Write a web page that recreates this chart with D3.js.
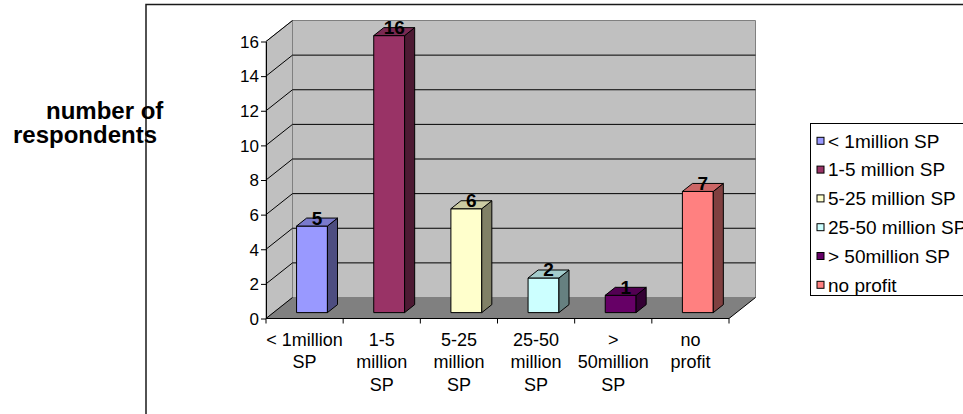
<!DOCTYPE html>
<html>
<head>
<meta charset="utf-8">
<script src="https://cdn.jsdelivr.net/npm/d3@7"></script>
<style>
  html, body { margin: 0; padding: 0; background: #fff; }
  svg { display: block; }
  text { font-family: Arial, "Liberation Sans", sans-serif; fill: #000; }
</style>
</head>
<body>
<svg id="chart" width="963" height="414"></svg>
<script>
// ---- data ----
const categories = ["< 1million SP", "1-5 million SP", "5-25 million SP", "25-50 million SP", "> 50million SP", "no profit"];
const categoryLines = [["< 1million", "SP"], ["1-5", "million", "SP"], ["5-25", "million", "SP"], ["25-50", "million", "SP"], [">", "50million", "SP"], ["no", "profit"]];
const values = [5, 16, 6, 2, 1, 7];
const colors = ["#9999FF", "#993366", "#FFFFCC", "#CCFFFF", "#660066", "#FF8080"];
const yTicks = [0, 2, 4, 6, 8, 10, 12, 14, 16];
const yTitleLines = ["number of", "respondents"];

// ---- layout ----
const svg = d3.select("#chart");
const X0 = 266, X1 = 729, Y0 = 318.5, Y16 = 41.5;
const DX = 26.5, DY = -21;           // depth of the 3D box
const F1 = 0.28, F2 = 0.66;          // bar depth position (fraction)

const x = d3.scaleBand().domain(d3.range(categories.length)).range([X0, X1]).paddingInner(0.6).paddingOuter(0.3);
const xCat = d3.scaleBand().domain(d3.range(categories.length)).range([X0, X1]);
const y = d3.scaleLinear().domain([0, 16]).range([Y0, Y16]);

const shade = (c, k) => { const r = d3.rgb(c); return d3.rgb(r.r * k, r.g * k, r.b * k).formatHex(); };
const poly = pts => "M" + pts.map(p => p.join(",")).join("L") + "Z";

// frame
svg.append("path").attr("d", "M146,414V4.5H963").attr("fill", "none").attr("stroke", "#1a1a1a").attr("stroke-width", 1.5);

// y title
svg.append("g").selectAll("text").data(yTitleLines).join("text")
  .attr("x", (d, i) => i === 0 ? 46 : 13)
  .attr("y", (d, i) => 119 + i * 24)
  .attr("font-size", 24).attr("font-weight", "bold")
  .text(d => d);

// back wall
svg.append("path").attr("d", poly([[X0 + DX, Y0 + DY], [X0 + DX, Y16 + DY], [X1 + DX, Y16 + DY], [X1 + DX, Y0 + DY]]))
  .attr("fill", "#C0C0C0").attr("stroke", "#808080").attr("stroke-width", 1);
// side wall
svg.append("path").attr("d", poly([[X0, Y0], [X0, Y16], [X0 + DX, Y16 + DY], [X0 + DX, Y0 + DY]]))
  .attr("fill", "#C0C0C0").attr("stroke", "#808080").attr("stroke-width", 1);
// floor
svg.append("path").attr("d", poly([[X0, Y0], [X1, Y0], [X1 + DX, Y0 + DY], [X0 + DX, Y0 + DY]]))
  .attr("fill", "#808080").attr("stroke", "none");
svg.append("line").attr("x1", X1).attr("y1", Y0).attr("x2", X1 + DX).attr("y2", Y0 + DY).attr("stroke", "#000").attr("stroke-width", 1);

// gridlines
const grid = svg.append("g").attr("stroke", "#000").attr("stroke-width", 1);
yTicks.forEach(t => {
  grid.append("line").attr("x1", X0).attr("y1", y(t)).attr("x2", X0 + DX).attr("y2", y(t) + DY);
  if (t > 0 && t < 16) grid.append("line").attr("x1", X0 + DX).attr("y1", y(t) + DY).attr("x2", X1 + DX).attr("y2", y(t) + DY);
});

// y axis
const yAxis = svg.append("g").attr("transform", `translate(${X0},0)`)
  .call(d3.axisLeft(y).tickValues(yTicks).tickSize(5).tickPadding(2).tickSizeOuter(0));
yAxis.select(".domain").attr("stroke", "#000");
yAxis.selectAll(".tick line").attr("stroke", "#000");
yAxis.selectAll(".tick text").attr("font-size", 17).attr("font-family", "Arial, 'Liberation Sans', sans-serif").attr("fill", "#000").attr("dy", "0.34em");

// x axis
const xAxisG = svg.append("g");
xAxisG.append("line").attr("x1", X0).attr("x2", X1).attr("y1", Y0).attr("y2", Y0).attr("stroke", "#000");
const bounds = d3.range(categories.length + 1).map(i => i < categories.length ? xCat(i) : X1);
xAxisG.selectAll("line.tk").data(bounds).join("line").attr("class", "tk")
  .attr("x1", d => d).attr("x2", d => d).attr("y1", Y0).attr("y2", Y0 + 5).attr("stroke", "#000");
const labels = xAxisG.selectAll("text.cat").data(categoryLines).join("text").attr("class", "cat")
  .attr("text-anchor", "middle").attr("font-size", 18);
labels.each(function (lines, i) {
  d3.select(this).selectAll("tspan").data(lines).join("tspan")
    .attr("x", xCat(i) + xCat.bandwidth() / 2)
    .attr("y", (d, j) => 346 + j * 22.4)
    .text(d => d);
});

// bars
const bw = x.bandwidth();
const ox = F1 * DX, oy = F1 * DY, ddx = (F2 - F1) * DX, ddy = (F2 - F1) * DY;
const bars = svg.append("g").selectAll("g").data(values).join("g");
bars.each(function (v, i) {
  const g = d3.select(this);
  const bx = x(i) + ox, yt = y(v) + oy, yb = y(0) + oy;
  g.append("path").attr("d", poly([[bx, yb], [bx, yt], [bx + bw, yt], [bx + bw, yb]]))
    .attr("fill", colors[i]).attr("stroke", "#000").attr("stroke-width", 1);
  g.append("path").attr("d", poly([[bx + bw, yb], [bx + bw, yt], [bx + bw + ddx, yt + ddy], [bx + bw + ddx, yb + ddy]]))
    .attr("fill", shade(colors[i], 0.5)).attr("stroke", "#000").attr("stroke-width", 1);
  g.append("path").attr("d", poly([[bx, yt], [bx + bw, yt], [bx + bw + ddx, yt + ddy], [bx + ddx, yt + ddy]]))
    .attr("fill", shade(colors[i], 0.8)).attr("stroke", "#000").attr("stroke-width", 1);
  g.append("text").attr("x", bx + bw / 2 + ddx / 2).attr("y", yt - 1.5)
    .attr("text-anchor", "middle").attr("font-size", 19).attr("font-weight", "bold").text(v);
});

// legend
const lg = svg.append("g");
lg.append("rect").attr("x", 810.5).attr("y", 123.5).attr("width", 200).attr("height", 172)
  .attr("fill", "#fff").attr("stroke", "#000").attr("stroke-width", 1);
const items = lg.selectAll("g").data(categories).join("g")
  .attr("transform", (d, i) => `translate(0,${141 + i * 28.8})`);
items.append("rect").attr("x", 817).attr("y", -3.7).attr("width", 7).attr("height", 7)
  .attr("fill", (d, i) => colors[i]).attr("stroke", "#000").attr("stroke-width", 1);
items.append("text").attr("x", 828).attr("y", 6.5).attr("font-size", 19).text(d => d);
</script>
</body>
</html>
